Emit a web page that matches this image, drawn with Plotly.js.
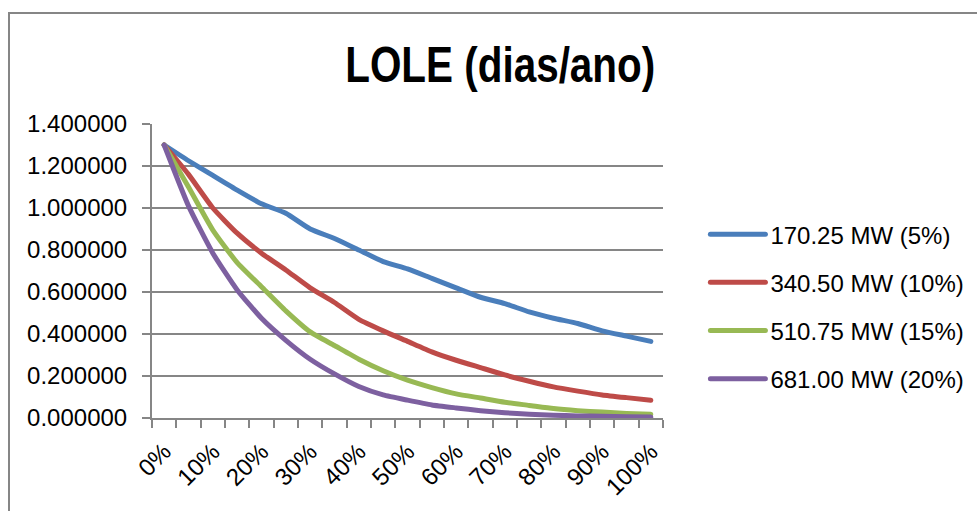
<!DOCTYPE html>
<html>
<head>
<meta charset="utf-8">
<script src="https://cdn.plot.ly/plotly-3.0.1.min.js"></script>
<style>
html,body{margin:0;padding:0;overflow:hidden;background:#fff;}
#chart{position:absolute;left:0;top:0;width:977px;height:511px;}
#frame{position:absolute;left:8px;top:12px;width:1100px;height:600px;border:2px solid #868686;box-sizing:border-box;pointer-events:none;}
</style>
</head>
<body>
<div id="chart"></div>
<div id="frame"></div>
<script>
// Data
const xValues = [0,5,10,15,20,25,30,35,40,45,50,55,60,65,70,75,80,85,90,95,100];
const tickValues = [0,10,20,30,40,50,60,70,80,90,100];
const tickLabels = ["0%","10%","20%","30%","40%","50%","60%","70%","80%","90%","100%"];
const seriesNames = ["170.25 MW (5%)","340.50 MW (10%)","510.75 MW (15%)","681.00 MW (20%)"];
const s5  = [1.30,1.225,1.155,1.085,1.02,0.975,0.90,0.855,0.80,0.745,0.71,0.665,0.62,0.575,0.545,0.505,0.475,0.45,0.415,0.39,0.365];
const s10 = [1.30,1.16,1.00,0.88,0.785,0.705,0.62,0.55,0.47,0.415,0.365,0.315,0.275,0.24,0.205,0.175,0.148,0.128,0.11,0.097,0.085];
const s15 = [1.30,1.10,0.895,0.74,0.625,0.51,0.41,0.345,0.28,0.225,0.18,0.145,0.115,0.095,0.075,0.06,0.045,0.035,0.028,0.022,0.018];
const s20 = [1.30,1.01,0.785,0.61,0.475,0.37,0.28,0.21,0.15,0.11,0.085,0.062,0.048,0.035,0.025,0.018,0.013,0.01,0.008,0.006,0.005];
const colors = ["#4A7EBB","#BE4B48","#98B954","#7D60A0"];

const allSeries = [s5,s10,s15,s20];
const traces = allSeries.map((ys,i)=>({
  x: xValues, y: ys, name: seriesNames[i], type:'scatter', mode:'lines',
  line:{color:colors[i], width:5, shape:'spline', smoothing:0.5},
  legendgroup:'g'+i
}));

const font = "'Liberation Sans', Arial, sans-serif";
const layout = {
  width:977, height:511,
  margin:{l:152, r:314, t:124, b:93},
  paper_bgcolor:'rgba(0,0,0,0)', plot_bgcolor:'rgba(0,0,0,0)',
  title:{text:'LOLE (dias/ano)', xref:'container', yref:'container', x:0.512, xanchor:'center', y:0.873, yanchor:'middle',
    font:{family:font, size:50, color:'#000', weight:'bold'}},
  font:{family:font, size:24, color:'#000'},
  xaxis:{
    range:[-2.5,102.5], tickmode:'array', tickvals:tickValues, ticktext:tickLabels,
    tickangle:-45, ticks:'outside', ticklen:8, tickcolor:'rgba(0,0,0,0)',
    showgrid:false, zeroline:false, showline:true, linecolor:'#868686', linewidth:2,
    minor:{tick0:-2.5, dtick:5, ticks:'outside', ticklen:8, tickcolor:'#868686', tickwidth:2, showgrid:false},
    tickfont:{family:font, size:24, color:'#000'}
  },
  yaxis:{
    range:[0,1.4], dtick:0.2, tick0:0, tickformat:'.6f',
    ticks:'outside', ticklen:8, tickcolor:'#868686', tickwidth:2, ticklabelstandoff:10,
    showgrid:true, gridcolor:'#868686', gridwidth:1.5, zeroline:false,
    showline:true, linecolor:'#868686', linewidth:2,
    tickfont:{family:font, size:24, color:'#000'}
  },
  legend:{xref:'container', yref:'container', x:0.722, xanchor:'left', y:0.585, yanchor:'top',
    font:{family:font, size:24, color:'#000'}, itemwidth:55, tracegroupgap:14, bgcolor:'rgba(0,0,0,0)'},
  showlegend:true
};

Plotly.newPlot('chart', traces, layout, {displayModeBar:false, staticPlot:true}).then(()=>{
  document.querySelectorAll('.legendlines path').forEach(p=>{
    p.setAttribute('d','M5,0h55');
    p.style.strokeLinecap='round';
  });
  document.querySelectorAll('.scatterlayer .js-line').forEach(p=>{
    p.style.strokeLinecap='round';
  });
  const t = document.querySelector('.gtitle');
  if (t) {
    t.setAttribute('textLength','310');
    t.setAttribute('lengthAdjust','spacingAndGlyphs');
  }
});
</script>
</body>
</html>
